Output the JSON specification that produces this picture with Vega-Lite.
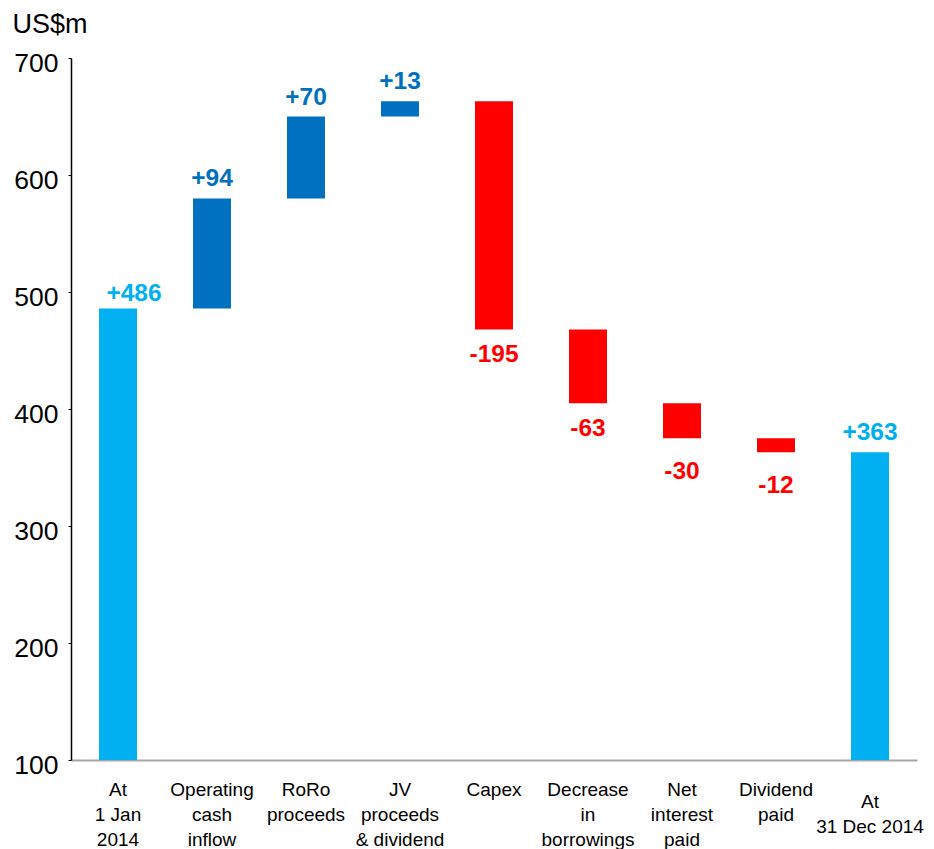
{
  "$schema": "https://vega.github.io/schema/vega-lite/v6.json",
  "autosize": "none",
  "width": 846,
  "height": 702,
  "padding": {"left": 71, "top": 58, "right": 17, "bottom": 89},
  "background": "white",
  "data": {
    "values": [
      {"step": "At|1 Jan|2014", "start": 0, "end": 486, "label": "+486", "kind": "total"},
      {"step": "Operating|cash|inflow", "start": 486, "end": 580, "label": "+94", "kind": "increase"},
      {"step": "RoRo|proceeds", "start": 580, "end": 650, "label": "+70", "kind": "increase"},
      {"step": "JV|proceeds|& dividend", "start": 650, "end": 663, "label": "+13", "kind": "increase"},
      {"step": "Capex", "start": 663, "end": 468, "label": "-195", "kind": "decrease"},
      {"step": "Decrease|in|borrowings", "start": 468, "end": 405, "label": "-63", "kind": "decrease"},
      {"step": "Net|interest|paid", "start": 405, "end": 375, "label": "-30", "kind": "decrease"},
      {"step": "Dividend|paid", "start": 375, "end": 363, "label": "-12", "kind": "decrease"},
      {"step": "At|31 Dec 2014", "start": 0, "end": 363, "label": "+363", "kind": "total"}
    ]
  },
  "encoding": {
    "x": {
      "field": "step",
      "type": "nominal",
      "sort": null,
      "scale": {"paddingInner": 0.596, "paddingOuter": 0.298},
      "axis": {
        "title": null,
        "labelAngle": 0,
        "labelExpr": "split(datum.label, '|')",
        "labelFont": "Liberation Sans",
        "labelFontSize": 19,
        "labelColor": "#000000",
        "labelLineHeight": 25,
        "labelBaseline": "top",
        "labelPadding": {"condition": {"test": "indexof(datum.value, '31 Dec') >= 0", "value": 32}, "value": 20},
        "labelOverlap": false,
        "labelLimit": 300,
        "ticks": false,
        "domainColor": "#A6A6A6",
        "domainWidth": 2
      }
    },
    "y": {
      "field": "end",
      "type": "quantitative",
      "scale": {"domain": [100, 700], "zero": false, "nice": false},
      "axis": {
        "values": [100, 200, 300, 400, 500, 600, 700],
        "grid": false,
        "title": "US$m",
        "titleAngle": 0,
        "titleAlign": "left",
        "titleBaseline": "alphabetic",
        "titleX": -59,
        "titleY": -26,
        "titleFont": "Liberation Sans",
        "titleFontSize": 27,
        "titleFontWeight": "normal",
        "titleColor": "#000000",
        "labelFont": "Liberation Sans",
        "labelFontSize": 26.5,
        "labelColor": "#000000",
        "labelPadding": 10,
        "labelOffset": 5,
        "tickSize": 3,
        "tickColor": "#000000",
        "domainColor": "#000000",
        "domainWidth": 1.5
      }
    },
    "color": {
      "field": "kind",
      "type": "nominal",
      "scale": {"domain": ["total", "increase", "decrease"], "range": ["#00B0F0", "#0070C0", "#FF0000"]},
      "legend": null
    }
  },
  "layer": [
    {
      "mark": {"type": "bar", "clip": true},
      "encoding": {"y": {"field": "start", "type": "quantitative"}, "y2": {"field": "end"}}
    },
    {
      "transform": [{"filter": "datum.kind != 'decrease' && datum.label != '+486'"}],
      "mark": {"type": "text", "font": "Liberation Sans", "fontSize": 24.5, "fontWeight": "bold", "baseline": "alphabetic", "dy": -12},
      "encoding": {"text": {"field": "label"}}
    },
    {
      "transform": [{"filter": "datum.label == '+486'"}],
      "mark": {"type": "text", "font": "Liberation Sans", "fontSize": 24.5, "fontWeight": "bold", "baseline": "alphabetic", "dy": -7, "dx": 16},
      "encoding": {"text": {"field": "label"}}
    },
    {
      "transform": [{"filter": "datum.kind == 'decrease' && datum.end > 400"}],
      "mark": {"type": "text", "font": "Liberation Sans", "fontSize": 24.5, "fontWeight": "bold", "baseline": "alphabetic", "dy": 33},
      "encoding": {"text": {"field": "label"}}
    },
    {
      "transform": [{"filter": "datum.kind == 'decrease' && datum.end <= 400"}],
      "mark": {"type": "text", "font": "Liberation Sans", "fontSize": 24.5, "fontWeight": "bold", "baseline": "alphabetic", "dy": 41},
      "encoding": {"text": {"field": "label"}}
    }
  ],
  "config": {"view": {"stroke": null}}
}
